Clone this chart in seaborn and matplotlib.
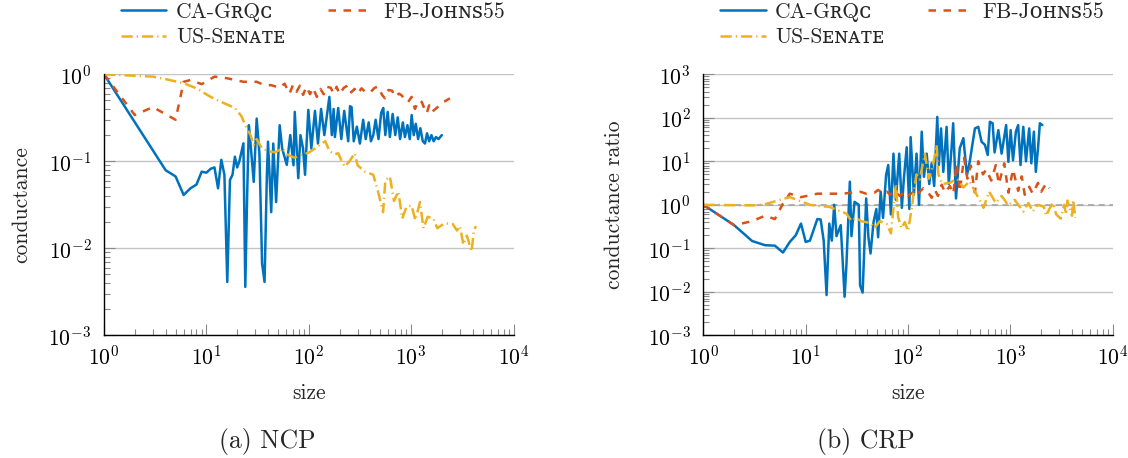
import numpy as np
import pandas as pd
import matplotlib
matplotlib.use("Agg")
import matplotlib.pyplot as plt
import seaborn as sns
from matplotlib.lines import Line2D
from matplotlib.ticker import LogLocator, NullFormatter

# ---------------- data ----------------
series_names = ["CA-GʀQᴄ", "FB-Jᴏʜɴꜱ55", "US-Sᴇɴᴀᴛᴇ"]

# (a) NCP
ncp_ca_size = [1, 4, 5, 6, 7, 8, 9, 10, 11, 12, 13, 14, 15, 16, 17, 18, 19, 20, 21, 23, 24, 25,
               26, 27, 29, 31, 33, 35, 37, 39, 40, 43, 45, 48, 52, 55, 61, 66, 71, 73, 79, 83,
               88, 92, 99, 106, 115, 123, 132, 142, 159, 168, 175, 180, 194, 208, 222, 243, 253,
               262, 275, 295, 316, 340, 360, 385, 405, 427, 450, 480, 510, 534, 560, 590, 620,
               660, 700, 740, 780, 830, 870, 920, 970, 1012, 1060, 1110, 1170, 1230, 1300, 1365,
               1430, 1500, 1580, 1660, 1750, 1850, 1995]
ncp_ca_cond = [1.0, 0.079, 0.067, 0.041, 0.049, 0.054, 0.076, 0.074, 0.082, 0.085, 0.049, 0.104,
               0.07, 0.0041, 0.061, 0.07, 0.113, 0.085, 0.1, 0.161, 0.0036, 0.039,
               0.26, 0.16, 0.058, 0.31, 0.12, 0.0067, 0.0041, 0.07, 0.168, 0.026, 0.16, 0.034,
               0.26, 0.14, 0.091, 0.2, 0.09, 0.37, 0.064, 0.2,
               0.14, 0.07, 0.39, 0.14, 0.38, 0.16, 0.4, 0.2, 0.55, 0.2, 0.4, 0.19, 0.41, 0.18,
               0.38, 0.17, 0.43, 0.42, 0.17, 0.25, 0.16, 0.3, 0.18, 0.28, 0.17, 0.2, 0.3, 0.18,
               0.36, 0.41, 0.2, 0.37, 0.19, 0.35, 0.2, 0.32, 0.18, 0.28, 0.19, 0.26, 0.18, 0.34,
               0.2, 0.27, 0.18, 0.24, 0.17, 0.16, 0.21, 0.17, 0.2, 0.17, 0.19, 0.18, 0.2]

ncp_fb_size = [1, 2, 3, 5, 6, 7, 9, 12, 16, 23, 31, 37, 43, 52, 58, 65, 70, 76, 82, 88, 95, 103,
               110, 120, 130, 140, 150, 164, 175, 187, 200, 220, 243, 260, 280, 300, 328, 360,
               400, 440, 477, 520, 555, 600, 650, 700, 760, 812, 870, 935, 1010, 1090, 1180,
               1272, 1350, 1420, 1500, 1600, 1730, 1860, 2080, 2390]
ncp_fb_cond = [1.0, 0.34, 0.42, 0.30, 0.82, 0.86, 0.77, 0.94, 0.9, 0.82, 0.82, 0.75, 0.75, 0.7,
               0.78, 0.6, 0.75, 0.63, 0.74, 0.58, 0.72, 0.59, 0.7, 0.55, 0.68, 0.59, 0.72, 0.7,
               0.6, 0.72, 0.59, 0.7, 0.75, 0.62, 0.68, 0.6, 0.69, 0.62, 0.62, 0.7, 0.72, 0.58,
               0.53, 0.66, 0.65, 0.55, 0.6, 0.57, 0.5, 0.48, 0.55, 0.4, 0.5, 0.48, 0.4, 0.356,
               0.44, 0.37, 0.4, 0.43, 0.48, 0.53]

ncp_us_size = [1, 3, 4, 6, 8, 11, 13, 19, 22, 24, 27, 29, 31, 35, 41, 47, 55, 63, 73, 85, 99,
               115, 133, 145, 160, 180, 194, 210, 225, 250, 281, 300, 354, 427, 475, 532, 560,
               620, 680, 750, 820, 900, 1010, 1100, 1220, 1320, 1450, 1650, 1800, 2120, 2550,
               2800, 3000, 3240, 3500, 3900, 4100, 4300]
ncp_us_cond = [1.0, 0.94, 0.88, 0.79, 0.69, 0.55, 0.5, 0.41, 0.33, 0.26, 0.2, 0.154, 0.18, 0.14,
               0.13, 0.127, 0.14, 0.118, 0.11, 0.12, 0.125, 0.14, 0.16, 0.17, 0.13, 0.12, 0.124,
               0.1, 0.087, 0.1, 0.124, 0.09, 0.076, 0.07, 0.045, 0.026, 0.06, 0.067, 0.035,
               0.045, 0.022, 0.03, 0.031, 0.021, 0.034, 0.017, 0.023, 0.022, 0.017, 0.0194,
               0.019, 0.016, 0.018, 0.011, 0.014, 0.0092, 0.016, 0.018]

# (b) CRP
crp_ca_size = [1, 2, 3, 4, 5, 6, 7, 8, 9, 10, 11, 13, 14, 15, 16, 17, 18, 19, 20, 22, 24, 25, 27,
               28, 30, 33, 34, 36, 39, 41, 43, 46, 49, 51, 54, 57, 61, 64, 68, 72, 76, 82, 87,
               91, 97, 103, 106, 114, 121, 128, 136, 143, 152, 161, 170, 180, 193, 200, 210,
               221, 238, 250, 266, 276, 294, 320, 347, 376, 400, 450, 485, 523, 563, 600, 630,
               670, 700, 762, 820, 908, 955, 1005, 1060, 1130, 1190, 1255, 1335, 1420, 1525,
               1600, 1695, 1770, 1860, 1940, 2050]
crp_ca_ratio = [1.0, 0.34, 0.147, 0.118, 0.115, 0.08, 0.14, 0.2, 0.37, 0.14, 0.15, 0.47, 0.46,
                0.15, 0.0084, 0.37, 0.15, 1.0, 0.19, 0.34, 0.0077, 0.041, 3.4,
                0.19, 1.17, 1.0, 0.014, 0.0096, 1.4, 0.18, 0.076, 0.4, 0.8, 0.18, 2.0, 0.5, 4.8,
                8.2, 0.6, 15, 1.3, 15, 0.85,
                4, 21, 0.8, 36, 1.7, 15, 1.0, 48, 4.4, 15, 3, 9, 2.7, 105, 8.2, 57,
                5.7, 62, 3, 20, 75, 1.4, 20, 34, 4.8, 9.7, 57, 62, 28, 24, 14, 81,
                75, 16, 52, 15, 68, 9.7, 52, 10.5, 48, 68, 8.2, 62, 10, 57,
                9, 48, 5.7, 20, 75, 68]

crp_fb_size = [1, 2, 3, 4, 5, 6, 7, 9, 13, 17, 23, 28, 34, 39, 47, 51, 57, 62, 67, 73, 83, 93,
               100, 113, 121, 130, 141, 160, 170, 183, 196, 213, 230, 256, 277, 298, 320, 352,
               380, 410, 450, 485, 540, 580, 650, 720, 770, 870, 955, 1060, 1190, 1290, 1380,
               1525, 1650, 1860, 2000, 2230, 2400]
crp_fb_ratio = [1.0, 0.34, 0.42, 0.56, 0.47, 1.07, 1.8, 1.5, 1.8, 1.8, 1.8, 1.9, 2.0, 1.8, 1.9,
                2.2, 1.8, 2.0, 1.7, 2.1, 1.6, 2.0, 1.6, 2.0, 1.6, 2.0, 2.4, 1.8, 1.45, 2.2, 1.6,
                2.9, 1.9, 2.7, 1.8, 8.9, 2.0, 12, 4, 8, 1.9, 10, 5, 6.5, 3.6, 8.2, 3, 9, 1.9,
                6.5, 2.1, 4.5, 1.7, 2.6, 1.8, 3.2, 2.0, 3.1, 2.4]

crp_us_size = [1, 3, 4, 5, 7, 9, 11, 14, 17, 22, 25, 28, 31, 35, 43, 47, 53, 62, 68, 76, 80, 86,
               93, 100, 110, 113, 121, 130, 146, 160, 175, 190, 198, 215, 256, 300, 347, 400,
               450, 512, 545, 620, 720, 820, 955, 1100, 1335, 1500, 1650, 1850, 2120, 2230,
               2400, 2600, 2800, 3100, 3350, 3500, 3600, 4000, 4100, 4300]
crp_us_ratio = [1.0, 0.97, 1.03, 1.2, 1.5, 1.2, 1.0, 0.93, 0.9, 0.7, 0.63, 0.42, 0.5, 0.42, 0.38,
                0.29, 0.42, 0.36, 0.22, 3.0, 0.52, 0.29, 0.4, 0.25, 1.0, 1.8, 5, 3.8, 15, 4, 8,
                24, 5, 3, 3.2, 4, 2.5, 3.5, 2, 1.2, 0.85, 2, 1.1, 1.6, 0.97, 1.3, 0.7, 1.1,
                0.7, 1.0, 0.9, 0.56, 0.8, 1.1, 0.6, 0.48, 1.0, 0.6, 1.25, 0.56, 1.3, 0.5]

# ---------------- styling ----------------
colors = {series_names[0]: "#0072BD", series_names[1]: "#D95319", series_names[2]: "#EDB120"}
dash_map = {series_names[0]: "", series_names[1]: (3.0, 3.0), series_names[2]: (4.5, 1.6, 0.5, 1.6)}
LW = 1.8
FS = 15.5

sns.set_style("ticks")
plt.rcParams["font.family"] = ["cmr10", "DejaVu Serif"]
plt.rcParams["mathtext.fontset"] = "cm"
plt.rcParams["axes.formatter.use_mathtext"] = True

W, H = 1128, 458
fig = plt.figure(figsize=(W / 100, H / 100), dpi=100)
ax_w, ax_h = 409.5 / W, 261 / H
ax_b = 1 - 335.3 / H
ax1 = fig.add_axes([104 / W, ax_b, ax_w, ax_h])
ax2 = fig.add_axes([703.3 / W, ax_b, ax_w, ax_h])


def long_df(triples):
    frames = []
    for name, xs, ys in triples:
        frames.append(pd.DataFrame({"size": xs, "value": ys, "graph": name}))
    return pd.concat(frames, ignore_index=True)


df_ncp = long_df([(series_names[0], ncp_ca_size, ncp_ca_cond),
                  (series_names[1], ncp_fb_size, ncp_fb_cond),
                  (series_names[2], ncp_us_size, ncp_us_cond)])
df_crp = long_df([(series_names[0], crp_ca_size, crp_ca_ratio),
                  (series_names[1], crp_fb_size, crp_fb_ratio),
                  (series_names[2], crp_us_size, crp_us_ratio)])

for ax, df, ylim, ylabel in [(ax1, df_ncp, (1e-3, 1), "conductance"),
                             (ax2, df_crp, (1e-3, 1e3), "conductance ratio")]:
    ax.set_xscale("log")
    ax.set_yscale("log")
    if ax is ax2:
        ax.axhline(1.0, color="#a0a0a0", lw=1.1, ls=(0, (4, 3)), zorder=1.5)
    sns.lineplot(data=df, x="size", y="value", hue="graph", style="graph",
                 hue_order=series_names, style_order=series_names,
                 palette=colors, dashes=dash_map, estimator=None, sort=True,
                 linewidth=LW, legend=False, ax=ax, zorder=3)
    ax.set_xlim(1, 1e4)
    ax.set_ylim(*ylim)
    ax.xaxis.set_major_locator(LogLocator(base=10, numticks=20))
    ax.xaxis.set_minor_locator(LogLocator(base=10, subs=np.arange(2, 10), numticks=200))
    ax.yaxis.set_major_locator(LogLocator(base=10, numticks=20))
    ax.yaxis.set_minor_locator(LogLocator(base=10, subs=np.arange(2, 10), numticks=200))
    ax.xaxis.set_minor_formatter(NullFormatter())
    ax.yaxis.set_minor_formatter(NullFormatter())
    ax.grid(axis="y", which="major", color="#c4c4c4", lw=1.0)
    ax.set_axisbelow(True)
    for s in ["top", "right"]:
        ax.spines[s].set_visible(False)
    for s in ["left", "bottom"]:
        ax.spines[s].set_color("black")
        ax.spines[s].set_linewidth(1.0)
        ax.spines[s].set_zorder(4)
    ax.tick_params(which="both", direction="in", color="#8a8a8a", width=0.8,
                   labelsize=FS, labelcolor="black")
    ax.tick_params(which="major", length=8)
    ax.tick_params(which="minor", length=4.5)
    ax.tick_params(axis="y", which="major", pad=9)
    ax.tick_params(axis="x", which="major", pad=7)
    ax.set_xlabel("size", fontsize=FS)
    ax.set_ylabel(ylabel, fontsize=FS)
    ax.xaxis.set_label_coords(0.5, -0.183)

ax1.yaxis.set_label_coords(-0.178, 0.5)
ax2.yaxis.set_label_coords(-0.194, 0.5)

# legends (column-major fill -> order CA, US, FB gives rows CA|FB, US)
order = [0, 2, 1]
for ax, left_px in [(ax1, 104), (ax2, 703.3)]:
    handles = []
    for i in order:
        nm = series_names[i]
        d = dash_map[nm]
        ls = "-" if d == "" else (0, d)
        handles.append(Line2D([], [], color=colors[nm], lw=LW, ls=ls))
    ax.legend(handles=handles, labels=[series_names[i] for i in order], ncol=2,
              loc="upper left", bbox_to_anchor=((left_px + 17) / W, 1 - 2 / H),
              bbox_transform=fig.transFigure, frameon=False, borderpad=0,
              borderaxespad=0, handlelength=2.1, handletextpad=0.45,
              columnspacing=2.0, labelspacing=0.3, fontsize=FS)

fig.text(267 / W, 1 - 441.7 / H, "(a) NCP", ha="center", va="center", fontsize=18.5)
fig.text(866.3 / W, 1 - 441.7 / H, "(b) CRP", ha="center", va="center", fontsize=18.5)

fig.savefig("out.png", dpi=100)
